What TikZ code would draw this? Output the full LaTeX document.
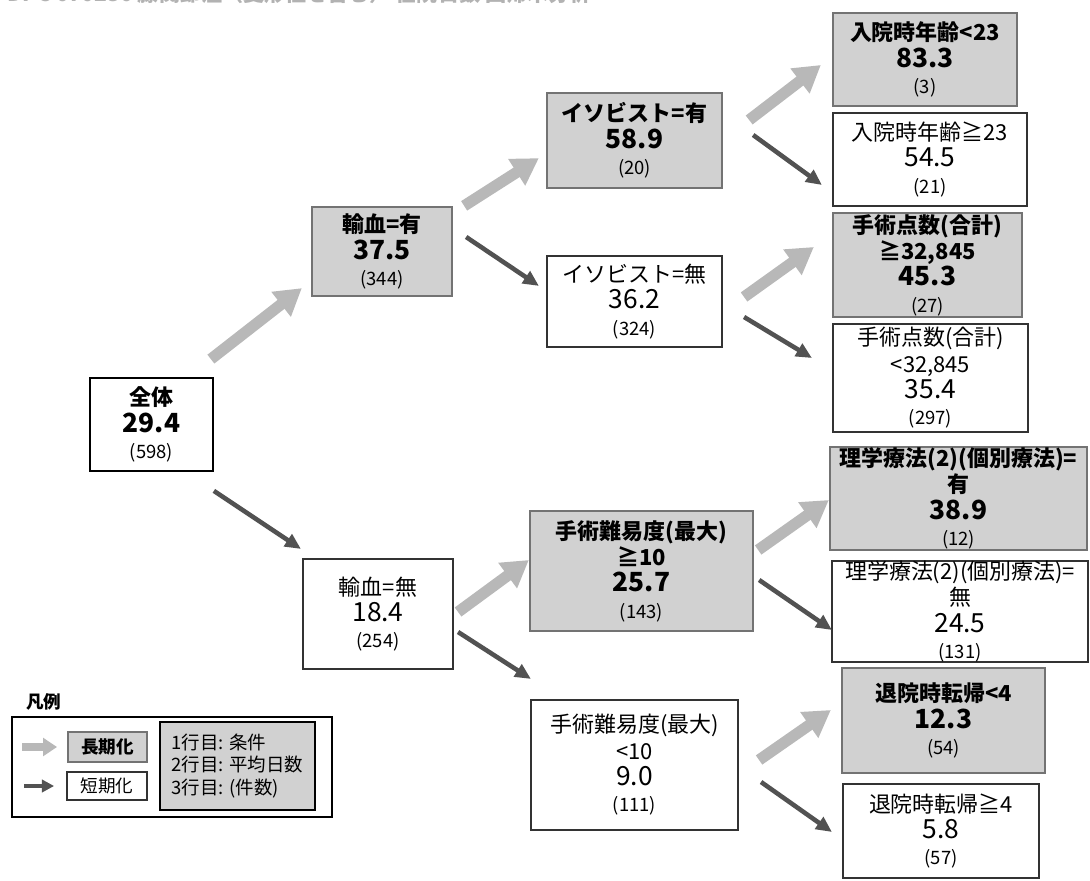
\documentclass[tikz,border=0pt]{standalone}
\usepackage{fontspec}
\setmainfont{Noto Sans CJK JP}
\usetikzlibrary{arrows.meta,calc}

\definecolor{longfill}{gray}{0.82}
\definecolor{longline}{gray}{0.45}
\definecolor{shortline}{gray}{0.20}
\definecolor{longarr}{gray}{0.72}
\definecolor{shortarr}{gray}{0.32}

\newcommand{\avgdays}[1]{{\fontsize{15}{15}\selectfont #1}}
\newcommand{\ncase}[1]{{\fontsize{10.5}{15}\selectfont\mdseries #1}}

\begin{document}
\begin{tikzpicture}[box/.style={rectangle,align=center,inner xsep=1pt,inner ysep=0pt,font=\fontsize{12.5}{15}\selectfont},
  long node/.style={box,draw=longline,fill=longfill,line width=1.3pt,font=\fontsize{12.5}{15}\selectfont\bfseries},
  short node/.style={box,draw=shortline,fill=white,line width=1.2pt},
  long arrow/.style={draw=longarr,line width=6.4pt,-{Triangle[width=17pt,length=15pt]}},
  short arrow/.style={draw=shortarr,line width=2.6pt,-{Triangle[width=8pt,length=9pt]}}]

\useasboundingbox (0,0) rectangle (21.8,17.6);

\node[anchor=base west,inner sep=0pt,font=\fontsize{12}{14}\selectfont\bfseries,text=gray!60](title) at (0.14,17.56) {DPC 070230 膝関節症（変形性を含む） 在院日数 回帰木分析};

% tree
\node[short node,draw=black,line width=1pt,font=\fontsize{12.5}{15}\selectfont\bfseries,minimum width=2.46cm,minimum height=1.86cm](all) at (3.03,9.11) {全体\\\avgdays{29.4}\\\ncase{(598)}};
\node[long node,minimum width=2.8cm,minimum height=1.78cm](tr1) at (7.64,12.57) {輸血=有\\\avgdays{37.5}\\\ncase{(344)}};
\node[short node,minimum width=3cm,minimum height=2.2cm](tr0) at (7.56,5.32) {輸血=無\\\avgdays{18.4}\\\ncase{(254)}};
\node[long node,minimum width=3.5cm,minimum height=1.9cm](iso1) at (12.69,14.79) {イソビスト=有\\\avgdays{58.9}\\\ncase{(20)}};
\node[short node,minimum width=3.5cm,minimum height=1.82cm](iso0) at (12.69,11.57) {イソビスト=無\\\avgdays{36.2}\\\ncase{(324)}};
\node[long node,minimum width=4.46cm,minimum height=2.4cm](dif1) at (12.83,6.18) {手術難易度(最大)\\≧10\\\avgdays{25.7}\\\ncase{(143)}};
\node[short node,minimum width=4.14cm,minimum height=2.6cm](dif0) at (12.69,2.3) {手術難易度(最大)\\<10\\\avgdays{9.0}\\\ncase{(111)}};

\node[long node,minimum width=3.68cm,minimum height=1.86cm](age1) at (18.5,16.41) {入院時年齢<23\\\avgdays{83.3}\\\ncase{(3)}};
\node[short node,minimum width=3.88cm,minimum height=1.86cm](age0) at (18.6,14.41) {入院時年齢≧23\\\avgdays{54.5}\\\ncase{(21)}};
\node[long node,minimum width=3.78cm,minimum height=2.08cm](ope1) at (18.55,12.3) {手術点数(合計)\\≧32,845\\\avgdays{45.3}\\\ncase{(27)}};
\node[short node,minimum width=3.9cm,minimum height=2.16cm](ope0) at (18.61,10.04) {手術点数(合計)\\<32,845\\\avgdays{35.4}\\\ncase{(297)}};
\node[long node,minimum width=5.14cm,minimum height=2.06cm](pt1) at (19.17,7.63) {理学療法(2)(個別療法)=\\有\\\avgdays{38.9}\\\ncase{(12)}};
\node[short node,minimum width=5.12cm,minimum height=1.98cm](pt0) at (19.2,5.37) {理学療法(2)(個別療法)=\\無\\\avgdays{24.5}\\\ncase{(131)}};
\node[long node,minimum width=4.06cm,minimum height=2.1cm](dis1) at (18.87,3.19) {退院時転帰<4\\\avgdays{12.3}\\\ncase{(54)}};
\node[short node,minimum width=3.92cm,minimum height=1.88cm](dis0) at (18.82,0.98) {退院時転帰≧4\\\avgdays{5.8}\\\ncase{(57)}};

\path
($(all.north east)+(-0.06,0.36)$) edge[long arrow] ($(tr1.south west)+(-0.18,0.18)$)
($(all.south east)+(0,-0.38)$) edge[short arrow] ($(tr0.north west)+(-0.02,0.18)$)
($(tr1.north east)+(0.22,0)$) edge[long arrow] ($(iso1.south west)+(-0.14,0.62)$)
($(tr1.east)+(0.26,0.29)$) edge[short arrow] ($(iso0.north west)+(-0.14,-0.62)$)
($(iso1.east)+(0.52,0.41)$) edge[long arrow] ($(age1.west)+(-0.22,-0.11)$)
($(iso1.east)+(0.6,0.11)$) edge[short arrow] ($(age0.west)+(-0.2,-0.51)$)
($(iso0.east)+(0.42,0.09)$) edge[long arrow] ($(ope1.west)+(-0.36,0.36)$)
($(iso0.east)+(0.42,-0.31)$) edge[short arrow] ($(ope0.west)+(-0.4,0.4)$)
($(tr0.east)+(0.08,0.04)$) edge[long arrow] ($(dif1.west)+(0,0.22)$)
($(tr0.east)+(0.08,-0.36)$) edge[short arrow] ($(dif0.north west)+(0.02,0.4)$)
($(dif1.east)+(0.08,0.42)$) edge[long arrow] ($(pt1.west)+(0,-0.03)$)
($(dif1.east)+(0.1,-0.18)$) edge[short arrow] ($(pt0.west)+(0.02,-0.37)$)
($(dif0.east)+(0.4,0.1)$) edge[long arrow] ($(dis1.west)+(-0.2,0.21)$)
($(dif0.east)+(0.44,-0.34)$) edge[short arrow] ($(dis0.west)+(-0.2,-0.02)$);

% legend
\node[anchor=west,font=\fontsize{10}{12}\selectfont\bfseries](legtitle) at (0.4,3.56) {凡例};
\node[draw=black,line width=0.9pt,minimum width=6.4cm,minimum height=2cm](legend) at (3.44,2.26) {};
\node[long node,line width=1pt,font=\fontsize{10}{12}\selectfont\bfseries,minimum width=1.58cm,minimum height=0.6cm](leglong) at (2.15,2.66) {長期化};
\node[short node,line width=1pt,font=\fontsize{10}{12}\selectfont,minimum width=1.6cm,minimum height=0.56cm](legshort) at (2.14,1.88) {短期化};
\node[box,draw=black,line width=1.2pt,fill=longfill,align=left,font=\fontsize{10.5}{13}\selectfont,minimum width=3.1cm,minimum height=1.76cm](legrows) at (4.75,2.28) {1行目: 条件\\2行目: 平均日数\\3行目: (件数)};

\path
($(leglong.west)+(-0.9,0)$) edge[draw=longarr,line width=4pt,-{Triangle[width=10pt,length=8pt]}] ($(leglong.west)+(-0.2,0)$)
($(legshort.west)+(-0.84,0)$) edge[draw=shortarr,line width=2.4pt,-{Triangle[width=7pt,length=7pt]}] ($(legshort.west)+(-0.24,0)$);
\end{tikzpicture}
\end{document}
